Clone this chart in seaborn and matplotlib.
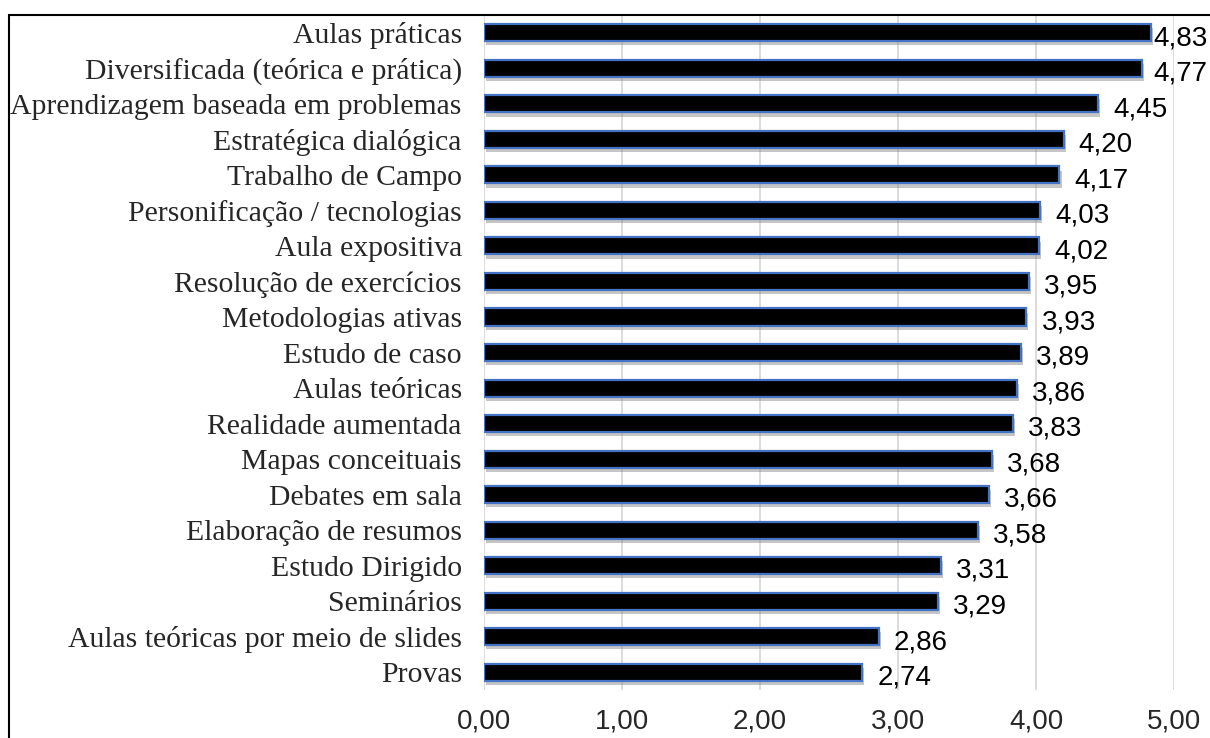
import matplotlib
matplotlib.use("Agg")
import matplotlib.pyplot as plt
import matplotlib.patheffects as pe
from matplotlib.patches import Rectangle
import seaborn as sns
import pandas as pd

categories = [
    "Aulas práticas",
    "Diversificada (teórica e prática)",
    "Aprendizagem baseada em problemas",
    "Estratégica dialógica",
    "Trabalho de Campo",
    "Personificação / tecnologias",
    "Aula expositiva",
    "Resolução de exercícios",
    "Metodologias ativas",
    "Estudo de caso",
    "Aulas teóricas",
    "Realidade aumentada",
    "Mapas conceituais",
    "Debates em sala",
    "Elaboração de resumos",
    "Estudo Dirigido",
    "Seminários",
    "Aulas teóricas por meio de slides",
    "Provas",
]
values = [4.83, 4.77, 4.45, 4.20, 4.17, 4.03, 4.02, 3.95, 3.93, 3.89,
          3.86, 3.83, 3.68, 3.66, 3.58, 3.31, 3.29, 2.86, 2.74]
xticks = [0, 1, 2, 3, 4, 5]

df = pd.DataFrame({"cat": categories, "val": values})

sns.set_theme(style="white")
W, H = 1210, 738
fig = plt.figure(figsize=(W / 100, H / 100), dpi=100)
ax = fig.add_axes([484 / W, 1 - 690 / H, (1174 - 484) / W, (690 - 15) / H])

sns.barplot(data=df, y="cat", x="val", orient="h", ax=ax, color="black",
            edgecolor="#4472C4", linewidth=1.6, width=0.48, saturation=1)

for p in ax.patches:
    p.set_path_effects([pe.SimplePatchShadow(offset=(1.5, -3), shadow_rgbFace="#808080", alpha=0.45),
                        pe.Normal()])

ax.set_xlim(0, 5)
ax.set_ylim(len(categories) - 0.5, -0.5)
ax.set_xticks(xticks)
ax.set_xticklabels([f"{t:.2f}".replace(".", ",") for t in xticks],
                   fontfamily="Liberation Sans", fontsize=20)
ax.tick_params(axis="x", length=0, pad=13)
ax.tick_params(axis="y", length=0, pad=16)
for lab in ax.get_yticklabels():
    lab.set_fontfamily("Liberation Serif")
    lab.set_fontsize(21.4)
ax.set_xlabel("")
ax.set_ylabel("")
ax.xaxis.grid(True, color="#d9d9d9", linewidth=1.3)
ax.set_axisbelow(True)
for s in ax.spines.values():
    s.set_visible(False)

for i, v in enumerate(values):
    ax.text(min(v + 0.11, 4.85), i + 0.15, f"{v:.2f}".replace(".", ","),
            va="center", ha="left", fontsize=20, fontfamily="Liberation Sans", color="black")

fig.patches.append(Rectangle((9 / W, -0.1), 1.2, 1 - 15 / H + 0.1, transform=fig.transFigure,
                             fill=False, edgecolor="black", linewidth=1.5))

fig.savefig("out.png", dpi=100)
